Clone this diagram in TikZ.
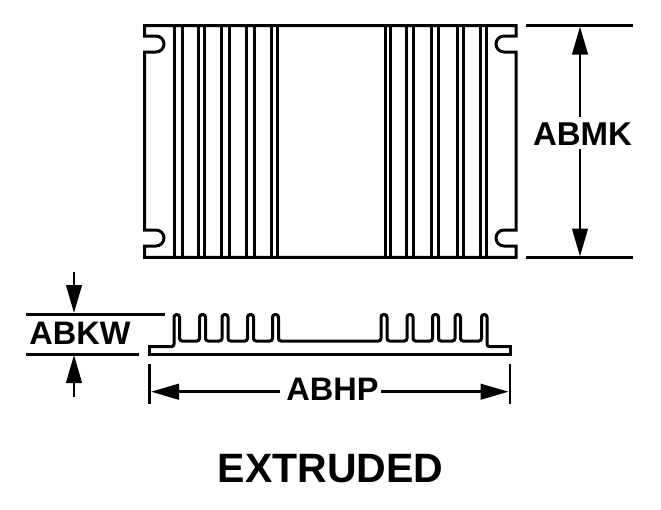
\documentclass[tikz,border=0pt]{standalone}
\usepackage{fontspec}
\setmainfont{Liberation Sans}
\usetikzlibrary{arrows.meta}
\tikzset{
  outline/.style={draw=black,line width=3pt,line cap=butt,line join=miter},
  fin/.style={outline,rounded corners=2.6pt},
  rib/.style={draw=black,line width=3pt},
  extline/.style={draw=black,line width=3pt},
  dimline/.style={draw=black,line width=2.8pt,-{Triangle[length=28pt,width=15.5pt]}},
  tick/.style={draw=black,line width=2.6pt},
  dimtext/.style={font=\fontsize{32.5}{32}\selectfont\bfseries,inner sep=0pt,anchor=center},
  mktext/.style={dimtext,font=\fontsize{33}{33}\selectfont\bfseries},
  titletext/.style={font=\fontsize{41}{41}\selectfont\bfseries,inner sep=0pt,anchor=center}
}
\begin{document}
\begin{tikzpicture}[x=1pt,y=-1pt]
\useasboundingbox (0,0) rectangle (661,509);
% plan view outline
\path[outline] (144.5,36) -- (144.5,25.5) -- (516,25.5) -- (516,36) -- (504,36)
  .. controls (499.6,36) and (496,39.6) .. (496,44)
  .. controls (496,48.4) and (499.6,52) .. (504,52)
  -- (516,52) -- (516,230) -- (504,230)
  .. controls (499.6,230) and (496,233.6) .. (496,238)
  .. controls (496,242.4) and (499.6,246) .. (504,246)
  -- (516,246) -- (516,257.3) -- (144.5,257.3)
  -- (144.5,246) -- (156,246)
  .. controls (160.4,246) and (164,242.4) .. (164,238)
  .. controls (164,233.6) and (160.4,230) .. (156,230)
  -- (144.5,230) -- (144.5,52) -- (156,52)
  .. controls (160.4,52) and (164,48.4) .. (164,44)
  .. controls (164,39.6) and (160.4,36) .. (156,36)
  -- cycle;
\foreach \x in {174.3,182.3,198,204.7,221.3,229.3,246.7,254,271,277,
                385,390.5,406.7,413.3,431.7,438.3,457.7,463.3,480,486.7}
  \draw[rib] (\x,25.5) -- (\x,257.3);
% side view
\path[fin] (149.3,346.7) -- (174,346.7) -- (174,314.5) -- (179.5,314.5) -- (179.5,341)
  -- (199.5,341) -- (199.5,314.5) -- (205.5,314.5) -- (205.5,341)
  -- (222,341) -- (222,314.5) -- (228,314.5) -- (228,341)
  -- (247.5,341) -- (247.5,314.5) -- (253.5,314.5) -- (253.5,341)
  -- (272.5,341) -- (272.5,314.5) -- (278.5,314.5) -- (278.5,341)
  -- (381,341) -- (381,314.5) -- (387,314.5) -- (387,341)
  -- (407,341) -- (407,314.5) -- (413,314.5) -- (413,341)
  -- (432.5,341) -- (432.5,314.5) -- (438.5,314.5) -- (438.5,341)
  -- (455,341) -- (455,314.5) -- (460.5,314.5) -- (460.5,341)
  -- (481.5,341) -- (481.5,314.5) -- (487,314.5) -- (487,346.7)
  -- (510,346.7);
\path[outline] (149.3,345.2) -- (149.3,354.3) -- (510,354.3) -- (510,345.2);
% labels
\node[mktext] (abmk) at (582.5,134) {ABMK};
\node[dimtext] (abkw) at (80,333.5) {ABKW};
\node[dimtext] (abhp) at (332.5,389.5) {ABHP};
\node[titletext] (title) at (330.5,469) {EXTRUDED};
% ABMK dimension
\coordinate (mkTopA) at (526,25.5); \coordinate (mkTopB) at (633,25.5);
\coordinate (mkBotA) at (526,257.3); \coordinate (mkBotB) at (633,257.3);
\coordinate (mkTip1) at (580,26.5); \coordinate (mkTip2) at (580,256.5);
\coordinate (mkGap1) at (580,117); \coordinate (mkGap2) at (580,149);
\draw[extline] (mkTopA) -- (mkTopB);
\draw[extline] (mkBotA) -- (mkBotB);
\draw[dimline] (mkGap1) -- (mkTip1);
\draw[dimline] (mkGap2) -- (mkTip2);
% ABKW dimension
\coordinate (kwTopA) at (26,314); \coordinate (kwTopB) at (165,314);
\coordinate (kwBotA) at (26,354); \coordinate (kwBotB) at (139,354);
\coordinate (kwS1) at (74,272); \coordinate (kwT1) at (74,313);
\coordinate (kwS2) at (74,397); \coordinate (kwT2) at (74,355);
\draw[extline] (kwTopA) -- (kwTopB);
\draw[extline] (kwBotA) -- (kwBotB);
\draw[dimline] (kwS1) -- (kwT1);
\draw[dimline] (kwS2) -- (kwT2);
% ABHP dimension
\coordinate (hpL1) at (149.3,364); \coordinate (hpL2) at (149.3,404);
\coordinate (hpR1) at (510,364); \coordinate (hpR2) at (510,404);
\coordinate (hpS1) at (280,391.7); \coordinate (hpT1) at (151,391.7);
\coordinate (hpS2) at (381,391.7); \coordinate (hpT2) at (508.5,391.7);
\draw[tick] (hpL1) -- (hpL2);
\draw[tick] (hpR1) -- (hpR2);
\draw[dimline] (hpS1) -- (hpT1);
\draw[dimline] (hpS2) -- (hpT2);
\end{tikzpicture}
\end{document}
